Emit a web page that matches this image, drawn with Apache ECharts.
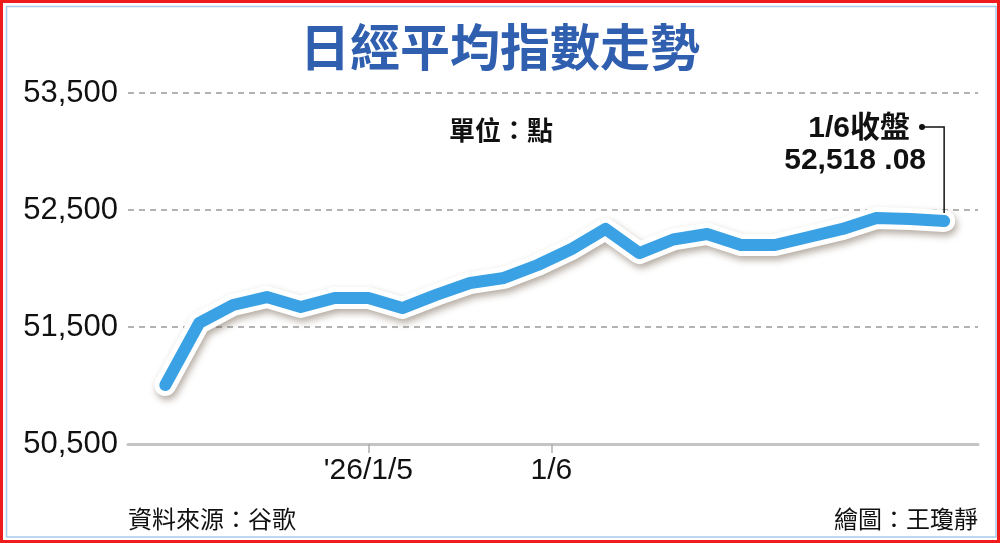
<!DOCTYPE html>
<html>
<head>
<meta charset="utf-8">
<script src="https://cdn.jsdelivr.net/npm/echarts@6/dist/echarts.min.js"></script>
<style>
html,body{margin:0;padding:0;background:#fff;}
#chart{width:1000px;height:543px;}
</style>
</head>
<body>
<div id="chart"></div>
<script>
// ---- data ----
var pointIndex = [0,1,2,3,4,5,6,7,8,9,10,11,12,13,14,15,16,17,18,19,20,21,22,23];
var indexValues = [51004, 51534, 51688, 51756, 51671, 51748, 51748, 51662, 51774, 51876, 51919, 52030,
                   52167, 52338, 52132, 52248, 52295, 52201, 52201, 52269, 52338, 52432, 52423, 52406];
var xTickPositions = [6, 11.4];
var xTickLabels = ["'26/1/5", "1/6"];
var yTickValues = [50500, 51500, 52500, 53500];
var titleText = '日經平均指數走勢';
var unitText = '單位：點';
var closeLabel = '1/6收盤';
var closeValueText = '52,518 .08';
var sourceText = '資料來源：谷歌';
var creditText = '繪圖：王瓊靜';

var seriesData = pointIndex.map(function (x, i) { return [x, indexValues[i]]; });

var CJK = '"Noto Sans CJK TC", "Noto Sans CJK SC", sans-serif';
var NUM = '"Liberation Sans", Arial, sans-serif';

var chart = echarts.init(document.getElementById('chart'), null, {renderer: 'canvas'});

var option = {
  animation: false,
  backgroundColor: '#ffffff',
  grid: {left: 128, right: 22, top: 93, bottom: 99, containLabel: false},
  xAxis: {
    type: 'value',
    min: -1.1,
    max: 24,
    splitLine: {show: false},
    axisLine: {show: true, lineStyle: {color: '#c4c4c4', width: 3}},
    axisTick: {show: true, customValues: xTickPositions, length: 9, lineStyle: {color: '#b0b0b0', width: 1.5}},
    axisLabel: {
      show: true,
      customValues: xTickPositions,
      margin: 12,
      color: '#111',
      fontSize: 30,
      fontFamily: NUM,
      formatter: function (v) {
        for (var i = 0; i < xTickPositions.length; i++) {
          if (Math.abs(xTickPositions[i] - v) < 1e-6) return xTickLabels[i];
        }
        return '';
      }
    }
  },
  yAxis: {
    type: 'value',
    min: 50500,
    max: 53500,
    interval: 500,
    axisLine: {show: false},
    axisTick: {show: false, customValues: yTickValues},
    axisLabel: {
      customValues: yTickValues,
      margin: 10,
      color: '#111',
      fontSize: 31,
      fontFamily: NUM,
      formatter: function (v) { return v.toLocaleString('en-US'); }
    },
    splitLine: {show: true, lineStyle: {color: '#9a9a9a', width: 1.5, type: [6, 5]}}
  },
  series: [
    {
      type: 'line',
      data: seriesData,
      symbol: 'none',
      silent: true,
      z: 3,
      lineStyle: {
        color: '#ffffff', width: 22, cap: 'round', join: 'round',
        shadowColor: 'rgba(90,70,50,0.45)', shadowBlur: 7, shadowOffsetX: 2, shadowOffsetY: 4
      }
    },
    {
      type: 'line',
      data: seriesData,
      symbol: 'none',
      silent: true,
      z: 4,
      lineStyle: {color: '#3aa2e4', width: 12, cap: 'round', join: 'round'}
    }
  ]
};
chart.setOption(option);

var last = chart.convertToPixel({gridIndex: 0}, seriesData[seriesData.length - 1]);
var dotX = 922, dotY = 127;

chart.setOption({
  graphic: [
    {type: 'rect', shape: {x: 1.5, y: 1.5, width: 997, height: 540}, style: {fill: null, stroke: '#ee1c1c', lineWidth: 3}, silent: true},
    {type: 'rect', shape: {x: 6.5, y: 6.5, width: 989.5, height: 530.5}, style: {fill: null, stroke: '#a9cbea', lineWidth: 1.5}, silent: true},
    {type: 'text', left: 'center', top: 22, style: {text: titleText, fill: '#2f5fae', font: 'bold 50px ' + CJK}, silent: true},
    {type: 'text', x: 501, y: 130, style: {text: unitText, fill: '#111', font: 'bold 26px ' + CJK, align: 'center', verticalAlign: 'middle'}, silent: true},
    {type: 'text', x: 910, y: 129, style: {text: closeLabel, fill: '#111', font: 'bold 30px ' + NUM + ', ' + CJK, align: 'right', verticalAlign: 'middle'}, silent: true},
    {type: 'text', x: 926, y: 161, style: {text: closeValueText, fill: '#111', font: 'bold 30px ' + NUM, align: 'right', verticalAlign: 'middle'}, silent: true},
    {type: 'polyline', shape: {points: [[dotX, dotY], [last[0], dotY], [last[0], last[1] - 8]]}, style: {stroke: '#111', lineWidth: 1.5, fill: null}, z: 10, silent: true},
    {type: 'circle', shape: {cx: dotX, cy: dotY, r: 3}, style: {fill: '#111'}, z: 10, silent: true},
    {type: 'text', x: 128, y: 519, style: {text: sourceText, fill: '#111', font: '24px ' + CJK, align: 'left', verticalAlign: 'middle'}, silent: true},
    {type: 'text', x: 978, y: 519, style: {text: creditText, fill: '#111', font: '24px ' + CJK, align: 'right', verticalAlign: 'middle'}, silent: true}
  ]
});
</script>
</body>
</html>
